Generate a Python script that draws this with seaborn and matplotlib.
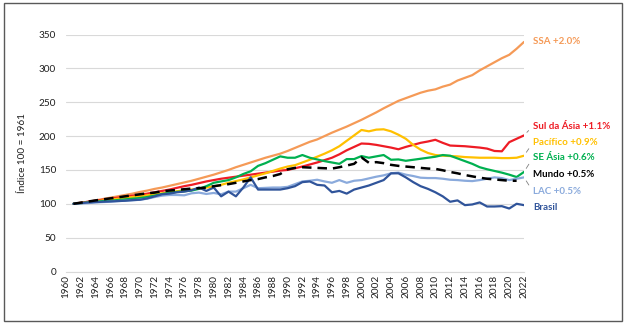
import matplotlib
matplotlib.use("Agg")
import matplotlib.pyplot as plt
import numpy as np
import pandas as pd
import seaborn as sns

# Index of per-capita supply, 1961 = 100
years = list(range(1961, 2023))

ssa = [100, 101.5, 103, 105, 107, 109, 111, 113, 115, 117.5,
       119.5, 122, 124, 126.5, 129, 131.5, 134, 137, 140, 143,
       146.5, 150, 154, 157.5, 161, 164.5, 168, 171, 174, 178,
       182.5, 187, 191.5, 195, 200, 205, 209.5, 214, 219, 224,
       229.5, 235, 241, 246.5, 252, 256, 260, 264, 267, 269,
       273, 276, 282, 286, 290, 297, 303, 309, 315, 320,
       329, 339]

sul_asia = [100, 101.5, 103, 104.5, 106, 107.5, 109, 110.5, 112, 113.5,
            115, 117, 119, 121, 123.5, 126, 128, 130.5, 133, 135,
            137, 138.5, 140, 141.5, 143, 144.5, 146, 147.5, 149, 150,
            152.5, 155, 158, 161, 164.5, 168, 173, 179, 184, 189,
            188.5, 187, 185, 183, 180.5, 184, 187, 190, 192, 194.5,
            190, 186, 185.5, 185, 184, 183, 181.5, 178, 177.5, 191,
            196, 201]

pacifico = [100, 101, 102, 103.5, 105, 106, 107.5, 108.5, 110, 111,
            112.5, 114, 115.5, 117, 118.5, 120, 121, 122.5, 124, 125.5,
            128, 131, 133.5, 136, 139, 142, 145, 148.5, 152, 155,
            157, 161, 165, 169.5, 174, 179, 185, 193, 201, 209,
            207, 209.5, 210, 207, 202, 196, 187, 180, 175, 172,
            171, 170.5, 170, 169, 168.5, 168, 168, 168, 167.5, 167.5,
            168, 171]

se_asia = [100, 101, 102, 103, 104, 104.5, 105.5, 106.5, 107.5, 108.5,
           110, 112, 114.5, 116, 117.5, 118.5, 119.5, 122, 126, 131,
           133, 135, 139, 144, 148, 156, 160, 165, 170, 168,
           168, 172, 168, 165.5, 163, 161, 159, 166, 166, 170.5,
           168, 170, 172, 165, 165.5, 163.5, 165, 166.5, 168, 169.5,
           172, 171, 167, 163, 159, 154, 151, 148.5, 146, 143,
           139.5, 147]

mundo = [100, 101.7, 103.3, 105, 106.5, 108, 109.5, 111, 112.5, 114,
         115.5, 116.5, 118.5, 119.5, 120.5, 121.5, 122.5, 123, 124, 126,
         127.5, 129, 131, 133, 135, 136.5, 139, 141, 144, 151,
         153, 154, 153.5, 153, 152.5, 152, 154, 156.5, 159, 168.5,
         160.5, 161.5, 160, 157.5, 156, 155, 154, 153, 152, 151.5,
         149.5, 147, 145, 142.5, 140.5, 138.5, 137, 136, 135, 134,
         134, np.nan]

lac = [100, 100.5, 101, 102, 102.5, 103, 104, 104.5, 105, 106,
       107.5, 110, 112, 113, 113, 112.5, 115.5, 116.5, 114.5, 116,
       114, 118, 118, 123, 128, 123, 123.5, 124, 124, 125,
       129, 133, 134, 135.5, 133, 131, 135, 131, 134, 135,
       137.5, 140, 142, 145, 146, 143, 141, 138.5, 138, 138,
       137, 135.5, 135, 134, 133.5, 135, 137, 139, 138, 135,
       137, 139]

brasil = [100, 101, 102, 102.5, 103, 103.5, 104, 104.5, 105.5, 106,
          108, 111, 114, 115, 117, 118, 120, 124, 119, 124,
          111, 118, 111, 124, 139, 121, 121, 121, 121, 123,
          126, 132, 133, 128, 127, 117, 119, 115, 121, 124,
          127, 131, 135, 145, 145, 139, 132, 126, 122, 117,
          111, 103, 105, 98, 99, 102, 96, 96, 96.5, 93,
          100, 98]

labels = ["SSA +2.0%", "Sul da Ásia +1.1%", "Pacífico +0.9%", "SE Ásia +0.6%",
          "Mundo +0.5%", "LAC +0.5%", "Brasil"]
series = [ssa, sul_asia, pacifico, se_asia, mundo, lac, brasil]
colors = ["#F59A57", "#EE1C25", "#FFC000", "#00B050", "#000000", "#8AAADC", "#30549A"]
# vertical placement of the end labels (in index units)
label_y = [339.3, 214.7, 190.1, 167.9, 143.1, 118.3, 93.8]

sns.set_style("white")
plt.rcParams["font.family"] = ["Lato", "DejaVu Sans"]

fig = plt.figure(figsize=(6.27, 3.24), dpi=100)
ax = fig.add_axes([66 / 627, 52.5 / 324, 458 / 627, 237 / 324])

draw_order = [0, 1, 2, 3, 5, 6, 4]
for i in draw_order:
    df = pd.DataFrame({"ano": years, "indice": series[i]})
    if i == 4:
        sns.lineplot(data=df, x="ano", y="indice", color=colors[i], lw=1.8,
                     errorbar=None, ax=ax, linestyle="--")
        ax.lines[-1].set_dashes((3.8, 2.4))
    else:
        sns.lineplot(data=df, x="ano", y="indice", color=colors[i], lw=1.6,
                     errorbar=None, ax=ax)

# end-of-line labels with thin leader lines
for lab, vals, col, ly in zip(labels, series, colors, label_y):
    arr = np.array(vals, dtype=float)
    idx = np.where(~np.isnan(arr))[0][-1]
    x_end, y_end = years[idx], arr[idx]
    arrow = None
    if abs(ly - y_end) > 8 and lab != "Mundo +0.5%":
        arrow = dict(arrowstyle="-", color="#808080", lw=0.6,
                     shrinkA=1, shrinkB=3, relpos=(0, 0.5))
    ax.annotate(lab, xy=(x_end, y_end), xytext=(2023.2, ly), textcoords="data",
                ha="left", va="center", color=col, fontsize=7.0, fontweight="bold",
                annotation_clip=False, arrowprops=arrow)

ax.set_xlim(1960, 2022)
ax.set_ylim(0, 350)
ax.set_xticks(list(range(1960, 2023, 2)))
ax.set_yticks(list(range(0, 351, 50)))
ax.tick_params(axis="x", labelrotation=90, labelsize=7.2, pad=2.5, length=0, colors="#202020")
ax.tick_params(axis="y", labelsize=7.2, pad=7, length=0, colors="#202020")
ax.grid(axis="y", color="#D9D9D9", lw=0.8)
ax.grid(axis="x", visible=False)
for s in ["top", "right", "left"]:
    ax.spines[s].set_visible(False)
ax.spines["bottom"].set_color("#D9D9D9")
ax.spines["bottom"].set_linewidth(0.8)

ax.set_xlabel("")
ax.set_ylabel("Índice 100 = 1961", fontsize=7.2, color="#202020")
ax.yaxis.set_label_coords(-0.085, 0.5)

fig.add_artist(plt.Rectangle((4 / 627, 3 / 324), 618 / 627, 318 / 324,
                             transform=fig.transFigure, fill=False,
                             edgecolor="#595959", lw=1.0))

fig.savefig("out.png", dpi=100, facecolor="white")
